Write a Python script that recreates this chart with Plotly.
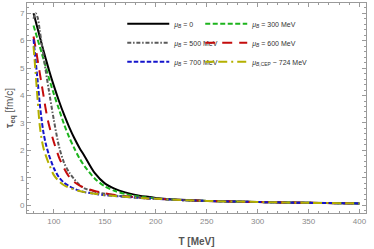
import plotly.graph_objects as go

# temperature grid [MeV]
T = [80, 82, 84, 86, 88, 90, 92, 95, 100, 105, 110, 115, 120, 125, 130,
     140, 150, 160, 170, 180, 190, 200, 225, 250, 300, 350, 400]

tau_mu0 = [7.0, 6.72, 6.44, 6.16, 5.88, 5.6, 5.34, 4.95, 4.35, 3.8, 3.3, 2.85, 2.45, 2.1, 1.8,
           1.18, 0.8, 0.6, 0.47, 0.38, 0.32, 0.27, 0.2, 0.16, 0.12, 0.09, 0.07]
tau_mu300 = [6.55, 6.3, 6.05, 5.8, 5.55, 5.3, 5.04, 4.65, 4.05, 3.5, 2.95, 2.48, 2.08, 1.72, 1.43,
             0.98, 0.69, 0.52, 0.41, 0.34, 0.29, 0.25, 0.19, 0.16, 0.12, 0.09, 0.07]
tau_mu500 = [6.8, 7.0, 6.85, 6.4, 5.9, 5.4, 4.9, 4.2, 3.1, 2.15, 1.55, 1.2, 0.95, 0.75, 0.62,
             0.5, 0.42, 0.36, 0.32, 0.29, 0.26, 0.24, 0.19, 0.16, 0.12, 0.09, 0.07]
tau_mu600 = [6.15, 5.75, 5.3, 4.85, 4.4, 3.95, 3.5, 2.95, 2.3, 1.75, 1.35, 1.04, 0.85, 0.73, 0.64,
             0.52, 0.44, 0.38, 0.33, 0.29, 0.26, 0.24, 0.19, 0.16, 0.12, 0.09, 0.07]
tau_mu700 = [6.05, 5.3, 4.55, 3.75, 3.1, 2.6, 2.25, 1.85, 1.35, 1.02, 0.82, 0.7, 0.6, 0.53, 0.48,
             0.42, 0.37, 0.34, 0.31, 0.28, 0.26, 0.24, 0.19, 0.16, 0.12, 0.09, 0.07]
tau_cep = [5.8, 4.85, 3.85, 2.95, 2.4, 2.05, 1.82, 1.52, 1.1, 0.88, 0.73, 0.64, 0.58, 0.52, 0.48,
           0.42, 0.37, 0.34, 0.31, 0.28, 0.26, 0.24, 0.19, 0.16, 0.12, 0.09, 0.07]

names = ["<i>μ<sub>B</sub></i> = 0",
         "<i>μ<sub>B</sub></i> = 300 MeV",
         "<i>μ<sub>B</sub></i> = 500 MeV",
         "<i>μ<sub>B</sub></i> = 600 MeV",
         "<i>μ<sub>B</sub></i> = 700 MeV",
         "<i>μ</i><sub><i>B</i>,CEP</sub> ~ 724 MeV"]

x_ticks = [100, 150, 200, 250, 300, 350, 400]
y_ticks = [0, 1, 2, 3, 4, 5, 6, 7]

series = [tau_mu0, tau_mu300, tau_mu500, tau_mu600, tau_mu700, tau_cep]
colors = ["#000000", "#1db41d", "#5a5a5a", "#c40c0c", "#1414cc", "#b4b000"]
dashes = ["solid", "5px,2.5px", "4px,1.8px,1.5px,1.8px", "10px,7px", "4.5px,2px",
          "9px,4px,9px,4px,2px,4px"]
legends = ["legend", "legend2", "legend", "legend2", "legend", "legend2"]

fig = go.Figure()
for y, c, d, n, lg in zip(series, colors, dashes, names, legends):
    fig.add_trace(go.Scatter(x=T, y=y, mode="lines", name=n, legend=lg,
                             line=dict(color=c, width=2, dash=d, shape="spline", smoothing=0.8)))

axis_common = dict(showline=True, linecolor="#9a9a9a", linewidth=1, mirror="ticks",
                   ticks="inside", ticklen=4, tickcolor="#9a9a9a", tickwidth=1,
                   showgrid=False, zeroline=False, automargin=False,
                   tickfont=dict(family="Liberation Sans", size=8, color="#8a8a8a"))

fig.update_xaxes(range=[73.6, 406.4], tickvals=x_ticks, **axis_common,
                 minor=dict(ticks="inside", ticklen=2, dtick=10, tick0=0, tickcolor="#9a9a9a"),
                 title=dict(text="<b>T [MeV]</b>", standoff=13,
                            font=dict(family="Liberation Sans", size=10, color="#555555")))
fig.update_yaxes(range=[-0.28, 7.37], tickvals=y_ticks, **axis_common,
                 minor=dict(ticks="inside", ticklen=2, dtick=0.2, tick0=0, tickcolor="#9a9a9a"),
                 title=dict(text="<b>τ<sub>eq</sub></b> [fm/c]", standoff=4,
                            font=dict(family="Liberation Sans", size=10, color="#555555")))

leg_common = dict(bgcolor="rgba(0,0,0,0)", borderwidth=0, xanchor="left", yanchor="top",
                  font=dict(family="Liberation Sans", size=7, color="#333333"),
                  itemwidth=42, tracegroupgap=0)
fig.update_layout(
    width=374, height=249,
    margin=dict(l=27, r=8, t=3, b=36, autoexpand=False),
    paper_bgcolor="white", plot_bgcolor="white",
    legend=dict(x=0.281, y=0.97, **leg_common),
    legend2=dict(x=0.511, y=0.97, **leg_common),
)

fig.write_html("out.html", config={"displayModeBar": False},
               post_script="document.body.style.margin='0';document.body.style.padding='0';")
